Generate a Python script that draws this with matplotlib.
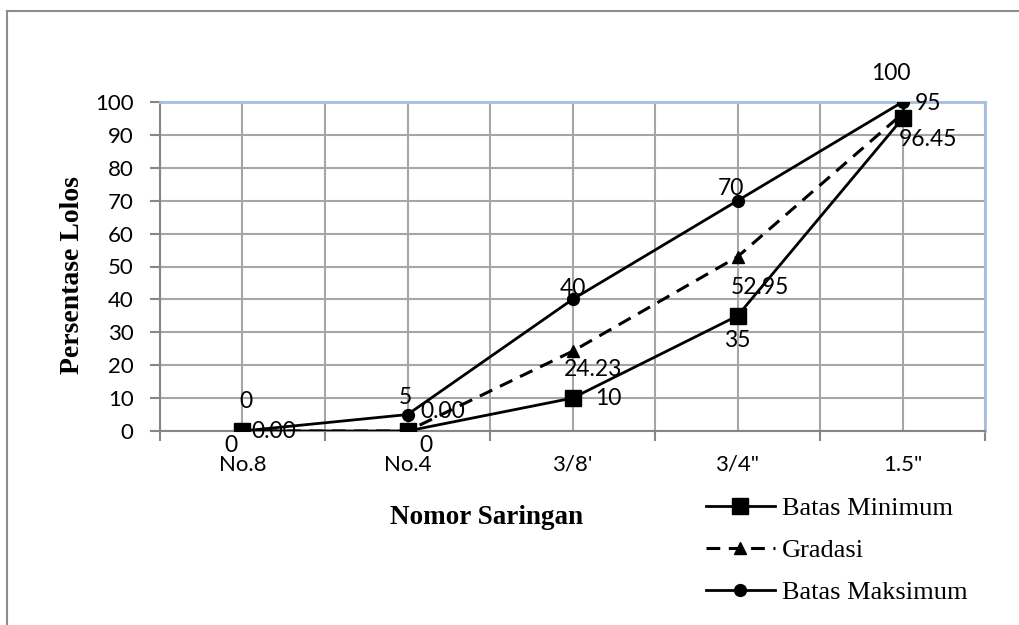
import matplotlib

matplotlib.use('Agg')
import matplotlib.pyplot as plt
from matplotlib.lines import Line2D
import numpy as np

saringan = ['No.8', 'No.4', "3/8'", '3/4"', '1.5"']
batas_min = [0, 0, 10, 35, 95]
gradasi = [0.00, 0.00, 24.23, 52.95, 96.45]
batas_max = [0, 5, 40, 70, 100]

# label offsets in pixels (dx, dy) for each point of each series
off_min = [(-12, -14), (18, -14), (36, 0), (0, -25), (25, 15)]
off_grad = [(31, 0), (35, 19), (21, -18), (22, -31), (25, -26)]
off_max = [(3, 29), (-2, 17), (0, 11), (-7, 12), (-12, 29)]

GRID = '#a6a6a6'
BLUE = '#a7bfde'
tick_font = 'Lato'
serif = 'Liberation Serif'

fig = plt.figure(figsize=(10.2, 6.25), dpi=100)
ax = fig.add_axes([160 / 1020, 1 - 431 / 625, 825 / 1020, 329 / 625])

x = np.arange(len(saringan))
l1, = ax.plot(x, batas_min, color='black', lw=2.0, marker='s', ms=11.5, zorder=5)
l2, = ax.plot(x, gradasi, color='black', lw=2.2, ls=(0, (4.5, 2.8)), marker='^', ms=8, zorder=5)
l3, = ax.plot(x, batas_max, color='black', lw=2.0, marker='o', ms=8.5, zorder=5)

def labels(vals, offs, fmt):
    for xi, v, (dx, dy) in zip(x, vals, offs):
        ax.annotate(fmt.format(v), (xi, v), xytext=(dx, dy), textcoords='offset pixels',
                    ha='center', va='center', fontsize=16.5, family=tick_font,
                    annotation_clip=False, zorder=6)

labels(batas_min, off_min, '{:g}')
labels(gradasi, off_grad, '{:.2f}')
labels(batas_max, off_max, '{:g}')

ax.set_xlim(-0.5, 4.5)
ax.set_ylim(0, 100)
ax.set_yticks(range(0, 101, 10))
ax.set_xticks(x)
ax.set_xticklabels(saringan)
ax.set_xticks(np.arange(-0.5, 4.6, 1), minor=True)
ax.tick_params(axis='x', which='major', length=0, pad=17)
ax.tick_params(axis='x', which='minor', length=7, color='#868686', width=1.5)
ax.tick_params(axis='y', length=7, color='#868686', width=1.5, pad=12)
for lab in ax.get_xticklabels() + ax.get_yticklabels():
    lab.set_fontfamily(tick_font)
    lab.set_fontsize(16)

ax.grid(True, which='both', axis='x', color=GRID, lw=1.5)
ax.grid(True, which='major', axis='y', color=GRID, lw=1.5)
ax.set_axisbelow(True)
for side in ['left', 'bottom']:
    ax.spines[side].set_color('#868686')
    ax.spines[side].set_linewidth(1.5)
for side in ['top', 'right']:
    ax.spines[side].set_color(BLUE)
    ax.spines[side].set_linewidth(2)

fig.text(487 / 1020, 1 - 518 / 625, 'Nomor Saringan', ha='center', va='center',
         family=serif, fontweight='bold', fontsize=19.5)
fig.text(73 / 1020, 1 - 275 / 625, 'Persentase Lolos', ha='center', va='center',
         rotation=90, family=serif, fontweight='bold', fontsize=20)

fig.legend([l1, l2, l3], ['Batas Minimum', 'Gradasi', 'Batas Maksimum'],
           loc='upper left', bbox_to_anchor=(706 / 1020, 1 - 497 / 625),
           frameon=False, prop={'family': serif, 'size': 19},
           handlelength=2.6, handletextpad=0.27, labelspacing=0.7, borderpad=0,
           borderaxespad=0)

# outer chart frame
fig.add_artist(Line2D([7 / 1020, 7 / 1020], [0, 1 - 11 / 625], color='#8c8c8c', lw=1.5))
fig.add_artist(Line2D([7 / 1020, 1], [1 - 11 / 625, 1 - 11 / 625], color='#8c8c8c', lw=1.5))

fig.savefig('out.png', dpi=100)
